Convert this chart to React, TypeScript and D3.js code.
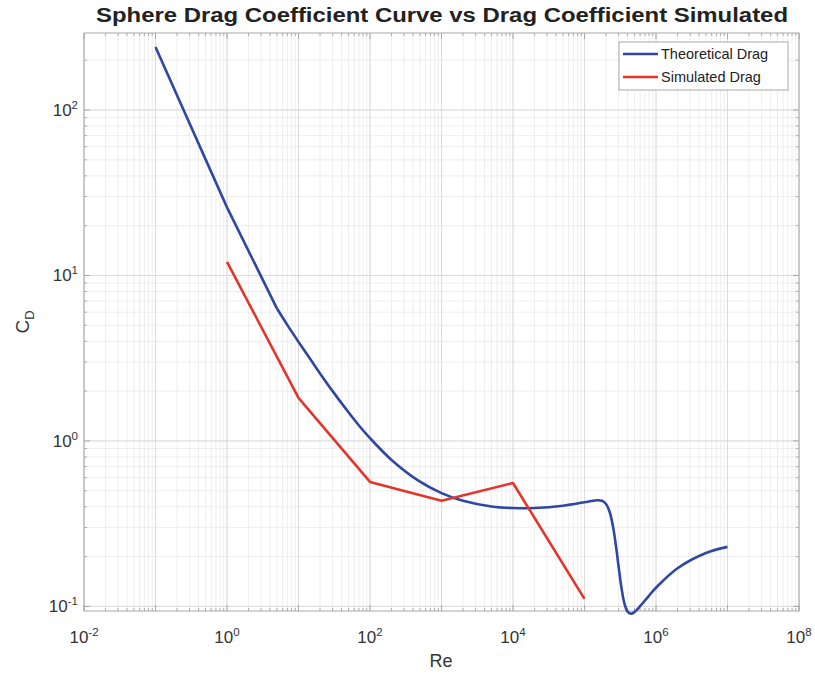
import React from "react";
import * as d3 from "d3";

const theoRe = [0.1, 1, 5, 7, 10, 15, 20, 30, 50, 70, 100, 200, 500, 1000, 2000, 5000, 10000, 20000, 50000, 100000, 125000, 150000, 175000, 200000, 225000, 250000, 275000, 300000, 325000, 350000, 375000, 400000, 450000, 500000, 600000, 800000, 1000000, 2000000, 5000000, 10000000];
const theoCd = [240.2, 25.8, 6.31, 5.01, 3.97, 3.07, 2.56, 2.0, 1.49, 1.24, 1.04, 0.768, 0.567, 0.484, 0.435, 0.402, 0.393, 0.393, 0.406, 0.426, 0.433, 0.438, 0.435, 0.416, 0.372, 0.305, 0.233, 0.174, 0.134, 0.111, 0.099, 0.093, 0.0902, 0.0924, 0.1003, 0.1163, 0.1296, 0.170, 0.2103, 0.229];

const simRe = [1, 10, 100, 1000, 10000, 100000];
const simCd = [12.1, 1.82, 0.565, 0.435, 0.557, 0.111];

const xTickExps = [-2, 0, 2, 4, 6, 8];
const yTickExps = [-1, 0, 1, 2];

const seriesNames = ["Theoretical Drag", "Simulated Drag"];
const seriesColors = ["#2f46a3", "#e5352a"];

const titleText = "Sphere Drag Coefficient Curve vs Drag Coefficient Simulated";

export default function App() {
  const W = 815, H = 673;
  const left = 84, right = 799, top = 33, bottom = 611;
  const x = d3.scaleLog().domain([1e-2, 1e8]).range([left, right]);
  const y = d3.scaleLog().domain([0.0938, 292]).range([bottom, top]);

  const xMinor: number[] = [];
  for (let e = -2; e < 8; e++) for (let k = 1; k <= 9; k++) xMinor.push(k * Math.pow(10, e));
  xMinor.push(1e8);
  const yMinor: number[] = [];
  for (let e = -2; e < 3; e++) for (let k = 1; k <= 9; k++) {
    const v = k * Math.pow(10, e);
    if (v >= 0.0938 && v <= 292) yMinor.push(v);
  }

  const pts = theoRe.map((r, i) => [r, theoCd[i]] as [number, number]);
  const straight = d3.line<[number, number]>().x(d => x(d[0])).y(d => y(d[1]));
  const smooth = d3.line<[number, number]>().x(d => x(d[0])).y(d => y(d[1])).curve(d3.curveCatmullRom.alpha(0.5));
  const theoA = straight(pts.slice(0, 3));
  const theoB = smooth(pts.slice(2));
  const sim = straight(simRe.map((r, i) => [r, simCd[i]] as [number, number]));

  const font = "'Liberation Sans', Arial, sans-serif";

  return (
    <svg width={W} height={H} style={{ position: "absolute", left: 0, top: 0, background: "#fff" }} fontFamily={font}>
      <rect x={0} y={0} width={W} height={H} fill="#fff" />
      {xMinor.map((v, i) => (
        <line key={"xm" + i} x1={x(v)} x2={x(v)} y1={top} y2={bottom} stroke="#eaeaea" strokeWidth={0.8} />
      ))}
      {yMinor.map((v, i) => (
        <line key={"ym" + i} x1={left} x2={right} y1={y(v)} y2={y(v)} stroke="#eaeaea" strokeWidth={0.8} />
      ))}
      {d3.range(-2, 9).map(e => (
        <line key={"xg" + e} x1={x(Math.pow(10, e))} x2={x(Math.pow(10, e))} y1={top} y2={bottom} stroke="#d8d8d8" strokeWidth={0.9} />
      ))}
      {yTickExps.map(e => (
        <line key={"yg" + e} x1={left} x2={right} y1={y(Math.pow(10, e))} y2={y(Math.pow(10, e))} stroke="#d8d8d8" strokeWidth={0.9} />
      ))}
      {xMinor.map((v, i) => {
        const major = Math.abs(Math.log10(v) - Math.round(Math.log10(v))) < 1e-9;
        const len = major ? 6 : 3;
        return (
          <g key={"xt" + i} stroke="#9a9a9a" strokeWidth={0.8}>
            <line x1={x(v)} x2={x(v)} y1={bottom} y2={bottom - len} />
            <line x1={x(v)} x2={x(v)} y1={top} y2={top + len} />
          </g>
        );
      })}
      {yMinor.map((v, i) => {
        const major = Math.abs(Math.log10(v) - Math.round(Math.log10(v))) < 1e-9;
        const len = major ? 6 : 3;
        return (
          <g key={"yt" + i} stroke="#9a9a9a" strokeWidth={0.8}>
            <line x1={left} x2={left + len} y1={y(v)} y2={y(v)} />
            <line x1={right} x2={right - len} y1={y(v)} y2={y(v)} />
          </g>
        );
      })}
      <rect x={left} y={top} width={right - left} height={bottom - top} fill="none" stroke="#a8a8a8" strokeWidth={1} />
      <path d={theoA || ""} fill="none" stroke={seriesColors[0]} strokeWidth={2.6} strokeLinejoin="round" />
      <path d={theoB || ""} fill="none" stroke={seriesColors[0]} strokeWidth={2.6} strokeLinejoin="round" />
      <path d={sim || ""} fill="none" stroke={seriesColors[1]} strokeWidth={2.6} strokeLinejoin="round" />
      {xTickExps.map(e => (
        <text key={"xl" + e} x={x(Math.pow(10, e))} y={643} textAnchor="middle" fontSize={17} fill="#333">
          10<tspan dy={-7} fontSize={11.5}>{e}</tspan>
        </text>
      ))}
      {yTickExps.map(e => (
        <text key={"yl" + e} x={78} y={y(Math.pow(10, e)) + 6} textAnchor="end" fontSize={17} fill="#333">
          10<tspan dy={-7} fontSize={11.5}>{e}</tspan>
        </text>
      ))}
      <text x={441} y={667} textAnchor="middle" fontSize={18} fill="#333">Re</text>
      <text transform="translate(29,322) rotate(-90)" textAnchor="middle" fontSize={19} fill="#333">
        C<tspan dy={5} fontSize={13}>D</tspan>
      </text>
      <text x={442} y={22} textAnchor="middle" fontSize={20} fontWeight="bold" fill="#222" textLength={692} lengthAdjust="spacingAndGlyphs">{titleText}</text>
      <rect x={619} y={42} width={169} height={48} fill="#fff" stroke="#a0a0a0" strokeWidth={0.9} />
      {seriesNames.map((n, i) => (
        <g key={n}>
          <line x1={623} x2={658} y1={54 + i * 23} y2={54 + i * 23} stroke={seriesColors[i]} strokeWidth={2.4} />
          <text x={661} y={59 + i * 23} fontSize={14.5} fill="#222">{n}</text>
        </g>
      ))}
    </svg>
  );
}
